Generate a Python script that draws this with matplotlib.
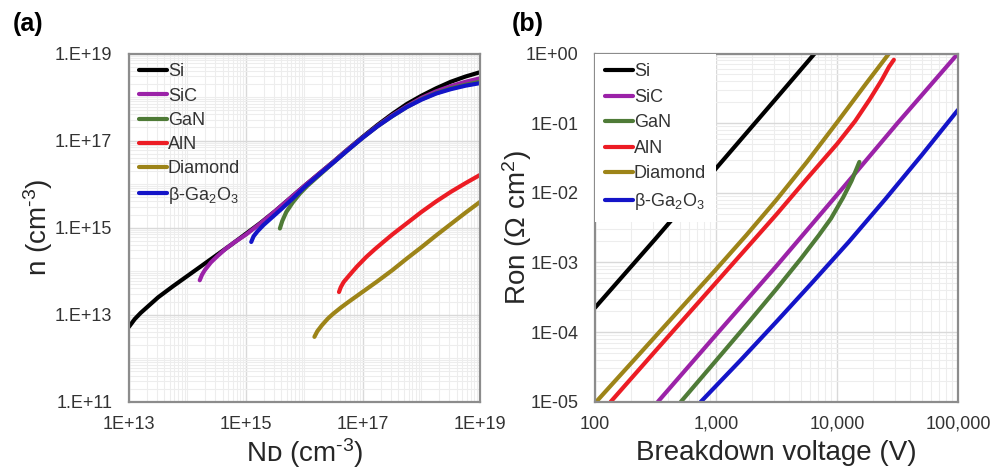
import numpy as np
import matplotlib
matplotlib.use("Agg")
import matplotlib.pyplot as plt
from matplotlib.ticker import FixedLocator, FuncFormatter, LogLocator, NullFormatter

plt.rcParams["font.family"] = ["Liberation Sans", "DejaVu Sans"]
plt.rcParams["mathtext.fontset"] = "custom"
plt.rcParams["mathtext.rm"] = "Liberation Sans"
plt.rcParams["mathtext.it"] = "Liberation Sans:italic"
plt.rcParams["mathtext.bf"] = "Liberation Sans:bold"

materials = ["Si", "SiC", "GaN", "AlN", "Diamond", r"β-Ga$_2$O$_3$"]
colors = ["#000000", "#9b22a8", "#4f7b37", "#ec1c24", "#9d8418", "#1414c8"]

# (a) free-electron density vs donor concentration, log10 values (cm^-3)
si_nd = [13.0, 13.1, 13.2, 13.35, 13.5, 13.75, 14.0, 14.25, 14.5, 14.75, 15.0, 15.25,
         15.5, 15.75, 16.0, 16.25, 16.5, 16.75, 17.0, 17.25, 17.5, 17.75, 18.0, 18.25,
         18.5, 18.75, 19.0]
si_n = [12.72, 12.90, 13.04, 13.22, 13.40, 13.65, 13.89, 14.13, 14.37, 14.61, 14.86, 15.11,
        15.38, 15.67, 15.96, 16.24, 16.52, 16.81, 17.09, 17.36, 17.61, 17.84, 18.03, 18.20,
        18.35, 18.47, 18.57]
sic_nd = [14.21, 14.25, 14.3, 14.4, 14.5, 14.65, 14.8, 15.0, 15.25, 15.5, 15.75, 16.0,
          16.25, 16.5, 16.75, 17.0, 17.25, 17.5, 17.75, 18.0, 18.25, 18.5, 18.75, 19.0]
sic_n = [13.79, 13.92, 14.03, 14.20, 14.33, 14.51, 14.66, 14.84, 15.10, 15.38, 15.67, 15.96,
         16.24, 16.52, 16.81, 17.08, 17.34, 17.58, 17.79, 17.98, 18.13, 18.25, 18.35, 18.43]
gan_nd = [15.58, 15.62, 15.69, 15.8, 15.92, 16.05, 16.2, 16.5, 16.75, 17.0, 17.25, 17.5,
          17.75, 18.0, 18.25, 18.5, 18.75, 19.0]
gan_n = [14.98, 15.15, 15.36, 15.58, 15.78, 15.96, 16.14, 16.50, 16.79, 17.07, 17.33, 17.56,
         17.77, 17.95, 18.09, 18.20, 18.28, 18.35]
aln_nd = [16.59, 16.62, 16.67, 16.77, 16.9, 17.06, 17.2, 17.34, 17.5, 17.75, 18.0, 18.25,
          18.5, 18.75, 19.0]
aln_n = [13.52, 13.63, 13.75, 13.91, 14.11, 14.33, 14.50, 14.66, 14.84, 15.10, 15.36, 15.60,
         15.82, 16.02, 16.21]
dia_nd = [16.17, 16.22, 16.3, 16.4, 16.49, 16.62, 16.75, 17.0, 17.25, 17.5, 17.75, 18.0,
          18.25, 18.5, 18.75, 19.0]
dia_n = [12.49, 12.62, 12.76, 12.91, 13.02, 13.16, 13.29, 13.53, 13.77, 14.02, 14.29, 14.55,
         14.82, 15.08, 15.34, 15.59]
ga2o3_nd = [15.09, 15.13, 15.2, 15.3, 15.45, 15.6, 15.8, 16.0, 16.25, 16.5, 16.75, 17.0,
            17.25, 17.5, 17.75, 18.0, 18.25, 18.5, 18.75, 19.0]
ga2o3_n = [14.67, 14.80, 14.92, 15.06, 15.24, 15.42, 15.67, 15.93, 16.22, 16.50, 16.79, 17.07,
           17.33, 17.56, 17.77, 17.94, 18.08, 18.18, 18.26, 18.32]

# (b) specific on-resistance vs breakdown voltage, log10 values (V, Ohm cm^2)
si_vb = [2.0, 2.5, 3.0, 3.5, 3.83]
si_ron = [-3.65, -2.66, -1.65, -0.64, 0.03]
sic_vb = [2.52, 3.0, 3.5, 4.0, 4.5, 5.0]
sic_ron = [-5.0, -4.04, -3.05, -2.03, -1.0, 0.0]
gan_vb = [2.71, 3.0, 3.25, 3.5, 3.7, 3.85, 3.95, 4.05, 4.12, 4.185]
gan_ron = [-5.0, -4.41, -3.90, -3.38, -2.95, -2.61, -2.37, -2.07, -1.83, -1.557]
aln_vb = [2.13, 2.5, 3.0, 3.25, 3.5, 3.75, 4.0, 4.15, 4.27, 4.37, 4.43, 4.47]
aln_ron = [-5.0, -4.27, -3.29, -2.80, -2.31, -1.80, -1.30, -0.97, -0.66, -0.38, -0.19, -0.09]
dia_vb = [2.0, 2.25, 2.5, 2.75, 3.0, 3.25, 3.5, 3.75, 4.0, 4.25, 4.43]
dia_ron = [-5.02, -4.54, -4.06, -3.58, -3.10, -2.61, -2.10, -1.56, -0.99, -0.41, 0.0]
ga2o3_vb = [2.875, 3.2, 3.5, 3.8, 4.1, 4.4, 4.7, 5.0]
ga2o3_ron = [-5.0, -4.41, -3.85, -3.28, -2.70, -2.09, -1.46, -0.81]

panel_a = [(si_nd, si_n), (sic_nd, sic_n), (gan_nd, gan_n),
           (aln_nd, aln_n), (dia_nd, dia_n), (ga2o3_nd, ga2o3_n)]
panel_b = [(si_vb, si_ron), (sic_vb, sic_ron), (gan_vb, gan_ron),
           (aln_vb, aln_ron), (dia_vb, dia_ron), (ga2o3_vb, ga2o3_ron)]

a_xticks = [1e13, 1e15, 1e17, 1e19]
a_yticks = [1e11, 1e13, 1e15, 1e17, 1e19]
b_xticks = [1e2, 1e3, 1e4, 1e5]
b_yticks = [1e-5, 1e-4, 1e-3, 1e-2, 1e-1, 1e0]

fig = plt.figure(figsize=(9.95, 4.74), dpi=100)
ax1 = fig.add_axes([0.1296, 0.1525, 0.3528, 0.7346])
ax2 = fig.add_axes([0.5980, 0.1525, 0.3648, 0.7346])

tick_color = "#333333"
label_color = "#262626"


def style_axis(ax):
    ax.set_xscale("log")
    ax.set_yscale("log")
    for sp in ax.spines.values():
        sp.set_color("#8c8c8c")
        sp.set_linewidth(1.6)
    ax.tick_params(which="both", length=0, labelsize=13, labelcolor=tick_color)
    ax.grid(which="major", color="#d9d9d9", linewidth=1.0)
    ax.grid(which="minor", color="#ededed", linewidth=0.8)
    ax.set_axisbelow(True)
    subs = np.arange(1, 10)
    ax.xaxis.set_minor_locator(LogLocator(base=10, subs=subs, numticks=100))
    ax.yaxis.set_minor_locator(LogLocator(base=10, subs=subs, numticks=100))
    ax.xaxis.set_minor_formatter(NullFormatter())
    ax.yaxis.set_minor_formatter(NullFormatter())


def draw(ax, data):
    for (xs, ys), name, c in zip(data, materials, colors):
        ax.plot(10 ** np.array(xs), 10 ** np.array(ys), color=c, lw=3.0,
                solid_capstyle="round", solid_joinstyle="round", label=name)


def add_legend(ax, spacing, filled):
    leg = ax.legend(loc="upper left", bbox_to_anchor=(0, 1), borderaxespad=0.0,
                    borderpad=0.55, fontsize=13, handlelength=1.55,
                    handletextpad=0.05, labelspacing=spacing, frameon=filled,
                    fancybox=False, framealpha=1.0, facecolor="white",
                    edgecolor="none")
    for t in leg.get_texts():
        t.set_color(tick_color)
    return leg


# ---- (a) ----
style_axis(ax1)
draw(ax1, panel_a)
ax1.set_xlim(1e13, 1e19)
ax1.set_ylim(1e11, 1e19)
ax1.xaxis.set_major_locator(FixedLocator(a_xticks))
ax1.yaxis.set_major_locator(FixedLocator(a_yticks))
ax1.xaxis.set_major_formatter(FuncFormatter(lambda v, p: "1E+%d" % round(np.log10(v))))
ax1.yaxis.set_major_formatter(FuncFormatter(lambda v, p: "1.E+%d" % round(np.log10(v))))
ax1.tick_params(axis="y", pad=12)
ax1.tick_params(axis="x", pad=10)
add_legend(ax1, 0.40, filled=False)
ax1.set_ylabel(r"n (cm$^{\text{-}3}$)", fontsize=20, color=label_color, va="center")
ax1.yaxis.set_label_coords(-0.259, 0.5)
ax1.set_xlabel("N\u1D05 (cm$^{\\text{-}3}$)", fontsize=20, color=label_color, va="center")
ax1.xaxis.set_label_coords(0.5, -0.147)

# ---- (b) ----
style_axis(ax2)
draw(ax2, panel_b)
ax2.set_xlim(1e2, 1e5)
ax2.set_ylim(1e-5, 1e0)
ax2.xaxis.set_major_locator(FixedLocator(b_xticks))
ax2.yaxis.set_major_locator(FixedLocator(b_yticks))
ax2.xaxis.set_major_formatter(FuncFormatter(lambda v, p: "{:,.0f}".format(v)))
ax2.yaxis.set_major_formatter(FuncFormatter(
    lambda v, p: "1E%s%02d" % ("+" if v >= 1 else "-", abs(round(np.log10(v))))))
ax2.tick_params(axis="y", pad=12)
ax2.tick_params(axis="x", pad=10)
add_legend(ax2, 0.47, filled=True)
ax2.set_ylabel("Ron (Ω cm$^2$)", fontsize=20, color=label_color, va="center")
ax2.yaxis.set_label_coords(-0.215, 0.5)
ax2.set_xlabel("Breakdown voltage (V)", fontsize=20, color=label_color, va="center")
ax2.xaxis.set_label_coords(0.5, -0.147)

fig.text(0.028, 0.949, "(a)", fontsize=18, fontweight="bold", ha="center", va="center")
fig.text(0.5305, 0.949, "(b)", fontsize=18, fontweight="bold", ha="center", va="center")

fig.savefig("out.png", dpi=100, facecolor="white")
